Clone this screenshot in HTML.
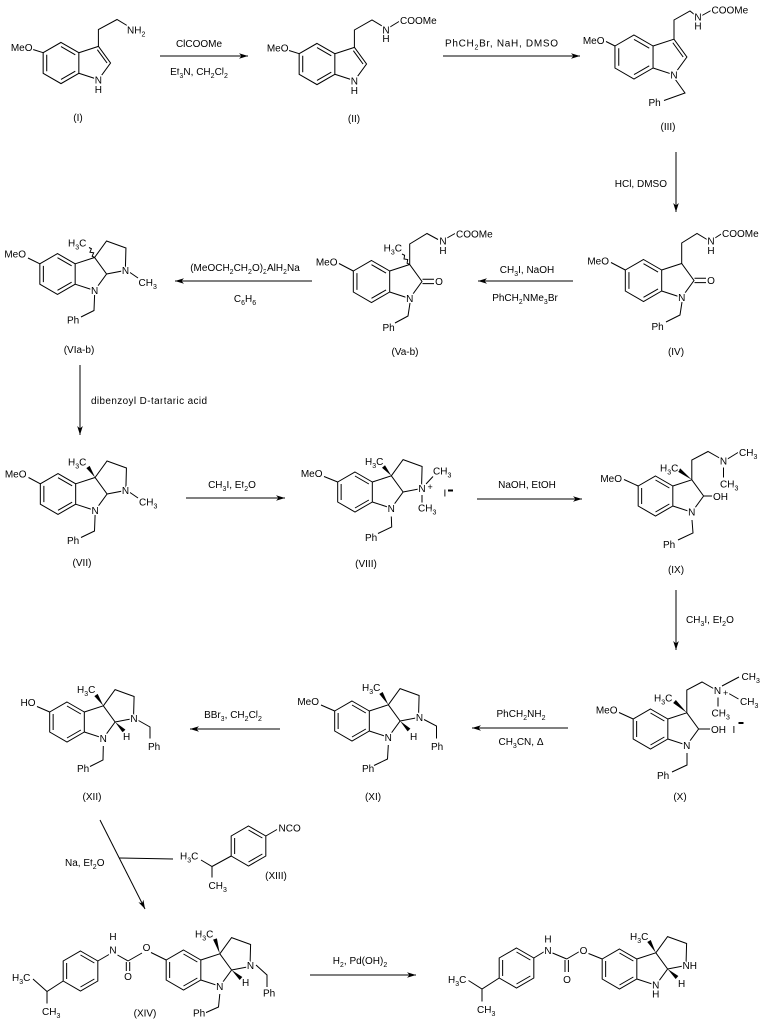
<!DOCTYPE html>
<html><head><meta charset="utf-8">
<style>
html,body{margin:0;padding:0;background:#fff;}
svg{display:block;background:#fff}
.b{fill:none;stroke:#000;stroke-width:1}
text{font-family:"Liberation Sans",Arial,sans-serif;font-size:10px;fill:#000;stroke:#fff;stroke-width:3px;paint-order:stroke;stroke-linejoin:round}
tspan.s{font-size:7px;baseline-shift:-2.5px}
.f{fill:#000;stroke:none}
</style></head><body>
<svg width="769" height="1025" viewBox="0 0 769 1025">
<defs>
<path id="hex" d="M0,-20L17.32,-10L17.32,10L0,20L-17.32,10L-17.32,-10Z M-13.86,-8V8 M0,-16L13.86,-8 M13.86,8L0,16"/>
<path id="pent" d="M17.32,-10L36.34,-16.18L48.1,0L36.34,16.18L17.32,10"/>
<path id="db" d="M35.29,-12.94L44.7,0"/>
<path id="pyr" d="M36.34,-16.18L48.09,-32.36L67.1,-25.5L66.5,-3.5L48.1,0"/>
<g id="benz"><use href="#hex"/></g>
<g id="ind"><use href="#hex"/><use href="#pent"/><use href="#db"/></g>
<g id="indl"><use href="#hex"/><use href="#pent"/></g>
<g id="tri"><use href="#hex"/><use href="#pent"/><use href="#pyr"/></g>
<marker id="ah" markerWidth="10" markerHeight="8" refX="9" refY="4" orient="auto" markerUnits="userSpaceOnUse" overflow="visible"><path d="M0,1.2L9,4L0,6.8L2.5,4Z" fill="#000" stroke="none"/></marker>
</defs>

<g class="b">
<use href="#ind" transform="translate(61,63) scale(1.03)"/>
<use href="#ind" transform="translate(317,64) scale(1.03)"/>
<use href="#ind" transform="translate(634,57) scale(1.1)" stroke-width="0.91"/>
<use href="#indl" transform="translate(643.5,280.5) scale(1.05)" stroke-width="0.95"/>
<use href="#indl" transform="translate(371.5,281.5) scale(1.05)" stroke-width="0.95"/>
<use href="#tri" transform="translate(57.5,274) scale(1.02)"/>
<use href="#tri" transform="translate(58,494) scale(1.02)"/>
<use href="#tri" transform="translate(355,492)"/>
<use href="#indl" transform="translate(655.5,496)"/>
<use href="#indl" transform="translate(650.5,729)"/>
<use href="#tri" transform="translate(352,721)"/>
<use href="#tri" transform="translate(67,722)"/>
<use href="#benz" transform="translate(248.5,846)"/>
<use href="#benz" transform="translate(80.5,971)"/>
<use href="#tri" transform="translate(183.5,970)"/>
<use href="#benz" transform="translate(516.5,968)"/>
<use href="#tri" transform="translate(619.5,969)"/>

<path d="M43.2,52.7L33,49.5 M98.4,46.3V29.5L117,19.5L127,25.5"/>
<path d="M299.2,53.7L289,50.5 M354.4,47.3V30L372,20L382,26 M390,27L399,21.5"/>
<path d="M615,46L606,41.5 M674,39.2V20L690,11L695,15 M702,15.5L711,10.5 M675,79L685,93L664,100.5"/>
<path d="M625.3,270L611,262.5 M694.5,278.3H706 M694.5,282.6H706 M681.7,263.5V243L697,233.5L707,239.5 M715,238L722,233.5 M682,302L680,315L666,322"/>
<path d="M353.3,271L339,263.5 M422.5,279.3H434 M422.5,283.6H434 M409.7,264.5V244L427,233.5L438,239.5 M447,238L455,233.5 M410,303L408,316L395,323"/>
<path d="M402,254L404.59,255.33L404.03,258.97L407.67,259.53L407.11,263.17L409.7,264.5"/>
<path d="M39.8,263.8L28,258 M130,272.5L138,278 M94.6,295L94,310.5L81,317"/>
<path d="M89,247.5L91.42,248.77L89.94,252.23L93.66,252.77L92.18,256.23L94.6,257.5"/>
<path d="M40.3,483.8L28.5,477.5 M130,492.5L138,498 M95.1,515L94.5,531L81,537.5"/>
<path d="M337.7,482L324,476.5 M426,484L433,476.5 M422,495V502.5 M391.3,516.5L391.7,527L378,533.5"/>
<path d="M638.2,486L624,479.5 M703.6,496H712.5 M691.8,479.8V460L708,451.5L719.5,458 M727.5,459L738,452.5 M723.5,467.5V477.5 M692,520L693,533L678,540"/>
<path d="M633.2,719L619,712.5 M698.6,729H710.5 M686.8,712.8V690L702,682L713.5,688.5 M722,686L739,677 M728,693L738.5,699 M718,697.5V706.5 M687,753L687,765L672,772"/>
<path d="M334.7,711L321,705 M424,719.5L436.5,726V738.5 M388.3,745L387.5,759L374,765.5"/>
<path d="M49.7,712L37,706.5 M138.5,720.5L150,727V738.5 M103.3,746L103,760L90,766.5"/>
<path d="M265.8,836L277,829.5 M231.2,856L212,866.5L201,860 M212,866.5V877.5"/>
<path d="M63.2,981L47,991.5L33,979 M47,991.5V1003.5 M97.8,961L109,954.5 M117.5,955L128,961 M126.3,962V971 M129.7,962V971 M128,961L142,953 M151,952.5L166.2,960 M256,965L267,975V987 M219.8,994L218.5,1007L205,1013"/>
<path d="M499.2,978L482,989L468.5,980.5 M482,989V1001.5 M533.8,958L544.5,951.5 M552.5,953L566.7,959 M565,960V972 M568.4,960V972 M566.7,959L579.5,951.5 M588.5,953.5L602.2,959"/>

<path d="M160,56H248" marker-end="url(#ah)"/>
<path d="M443,56H580" marker-end="url(#ah)"/>
<path d="M676,152V212" marker-end="url(#ah)"/>
<path d="M573,281H478" marker-end="url(#ah)"/>
<path d="M312,281H175" marker-end="url(#ah)"/>
<path d="M80,365V435" marker-end="url(#ah)"/>
<path d="M186,498H285" marker-end="url(#ah)"/>
<path d="M477,499H582" marker-end="url(#ah)"/>
<path d="M676,590V650" marker-end="url(#ah)"/>
<path d="M568,728H472" marker-end="url(#ah)"/>
<path d="M280,729H190" marker-end="url(#ah)"/>
<path d="M100,820L145,909" marker-end="url(#ah)"/>
<path d="M119,858L147,858.5L173,859"/>
<path d="M310,975H416" marker-end="url(#ah)"/>
</g>

<g class="f">
<polygon points="95.1,477.5 89.65,465.88 86.35,468.12"/>
<polygon points="391.3,475.8 385,465.2 382,467.8"/>
<polygon points="691.8,479.8 680.2,468.4 677.8,471.6"/>
<polygon points="686.8,712.8 675.85,700.03 673.15,702.97"/>
<polygon points="388.3,704.8 382.7,691.95 379.3,694.05"/>
<polygon points="400.1,721 407.6,731.4 410.4,728.6"/>
<polygon points="103.3,705.8 97.66,693.88 94.34,696.12"/>
<polygon points="115.1,722 122.6,732.4 125.4,729.6"/>
<polygon points="219.8,953.8 216.9,938.4 213.1,939.6"/>
<polygon points="231.6,970 239.66,979.98 242.34,977.02"/>
<polygon points="655.8,952.8 650.74,940 647.26,942"/>
<polygon points="667.6,969 675.66,978.98 678.34,976.02"/>
<rect x="448" y="489.5" width="5" height="2"/>
<rect x="738.5" y="722" width="5" height="2"/>
</g>

<text x="199" y="47" text-anchor="middle">ClCOOMe</text>
<text x="199" y="75" text-anchor="middle">Et<tspan class="s">3</tspan>N, CH<tspan class="s">2</tspan>Cl<tspan class="s">2</tspan></text>
<text x="445" y="46.5" textLength="113" lengthAdjust="spacing">PhCH<tspan class="s">2</tspan>Br, NaH, DMSO</text>
<text x="667" y="187" text-anchor="end">HCl, DMSO</text>
<text x="527" y="273" text-anchor="middle">CH<tspan class="s">3</tspan>I, NaOH</text>
<text x="525" y="301" text-anchor="middle">PhCH<tspan class="s">2</tspan>NMe<tspan class="s">3</tspan>Br</text>
<text x="245" y="271" text-anchor="middle">(MeOCH<tspan class="s">2</tspan>CH<tspan class="s">2</tspan>O)<tspan class="s">2</tspan>AlH<tspan class="s">2</tspan>Na</text>
<text x="245" y="302" text-anchor="middle">C<tspan class="s">6</tspan>H<tspan class="s">6</tspan></text>
<text x="91" y="404" textLength="116" lengthAdjust="spacing">dibenzoyl D-tartaric acid</text>
<text x="232" y="488" text-anchor="middle">CH<tspan class="s">3</tspan>I, Et<tspan class="s">2</tspan>O</text>
<text x="527" y="488" text-anchor="middle">NaOH, EtOH</text>
<text x="686" y="623">CH<tspan class="s">3</tspan>I, Et<tspan class="s">2</tspan>O</text>
<text x="521" y="717" text-anchor="middle">PhCH<tspan class="s">2</tspan>NH<tspan class="s">2</tspan></text>
<text x="521" y="745" text-anchor="middle">CH<tspan class="s">3</tspan>CN, Δ</text>
<text x="233" y="718" text-anchor="middle">BBr<tspan class="s">3</tspan>, CH<tspan class="s">2</tspan>Cl<tspan class="s">2</tspan></text>
<text x="65" y="866">Na, Et<tspan class="s">2</tspan>O</text>
<text x="360" y="964" text-anchor="middle">H<tspan class="s">2</tspan>, Pd(OH)<tspan class="s">2</tspan></text>

<text x="32.5" y="51" text-anchor="end">MeO</text>
<text x="127" y="33.5">NH<tspan class="s">2</tspan></text>
<text x="98.4" y="83.5" text-anchor="middle">N</text>
<text x="98.4" y="93" text-anchor="middle">H</text>
<text x="78" y="121" text-anchor="middle">(I)</text>

<text x="288.5" y="51.5" text-anchor="end">MeO</text>
<text x="386" y="33.5" text-anchor="middle">N</text>
<text x="386" y="42" text-anchor="middle">H</text>
<text x="400" y="24">COOMe</text>
<text x="354.4" y="84.5" text-anchor="middle">N</text>
<text x="354.4" y="94" text-anchor="middle">H</text>
<text x="354" y="122" text-anchor="middle">(II)</text>

<text x="604.5" y="44" text-anchor="end">MeO</text>
<text x="698" y="20.5" text-anchor="middle">N</text>
<text x="698" y="29.5" text-anchor="middle">H</text>
<text x="711.5" y="13.5">COOMe</text>
<text x="674" y="78.5" text-anchor="middle">N</text>
<text x="648.5" y="106">Ph</text>
<text x="668" y="130" text-anchor="middle">(III)</text>

<text x="609" y="264.5" text-anchor="end">MeO</text>
<text x="711" y="284" text-anchor="middle">O</text>
<text x="711" y="244.5" text-anchor="middle">N</text>
<text x="711" y="254" text-anchor="middle">H</text>
<text x="722" y="237">COOMe</text>
<text x="681.7" y="301" text-anchor="middle">N</text>
<text x="651.5" y="330">Ph</text>
<text x="676" y="355" text-anchor="middle">(IV)</text>

<text x="337.5" y="265.5" text-anchor="end">MeO</text>
<text x="439" y="285" text-anchor="middle">O</text>
<text x="443" y="244.5" text-anchor="middle">N</text>
<text x="443" y="254" text-anchor="middle">H</text>
<text x="456" y="237.5">COOMe</text>
<text x="409.7" y="302" text-anchor="middle">N</text>
<text x="382.5" y="331">Ph</text>
<text x="402" y="251.5" text-anchor="end">H<tspan class="s">3</tspan>C</text>
<text x="405" y="355" text-anchor="middle">(Va-b)</text>

<text x="26" y="257.5" text-anchor="end">MeO</text>
<text x="68" y="246.5">H<tspan class="s">3</tspan>C</text>
<text x="125.5" y="274" text-anchor="middle">N</text>
<text x="138.5" y="286">CH<tspan class="s">3</tspan></text>
<text x="94.6" y="294" text-anchor="middle">N</text>
<text x="67" y="323.5">Ph</text>
<text x="79" y="353" text-anchor="middle">(VIa-b)</text>

<text x="26.5" y="477.5" text-anchor="end">MeO</text>
<text x="68" y="465.5">H<tspan class="s">3</tspan>C</text>
<text x="125.5" y="494" text-anchor="middle">N</text>
<text x="139" y="505.5">CH<tspan class="s">3</tspan></text>
<text x="95.1" y="514" text-anchor="middle">N</text>
<text x="67" y="544">Ph</text>
<text x="82" y="566" text-anchor="middle">(VII)</text>

<text x="322.5" y="477" text-anchor="end">MeO</text>
<text x="365" y="465">H<tspan class="s">3</tspan>C</text>
<text x="422" y="492" text-anchor="middle">N</text>
<text x="427.5" y="490" style="font-size:9px">+</text>
<text x="433" y="474.5">CH<tspan class="s">3</tspan></text>
<text x="418" y="511.5">CH<tspan class="s">3</tspan></text>
<text x="443.5" y="496.5">I</text>
<text x="391.3" y="512" text-anchor="middle">N</text>
<text x="365" y="541">Ph</text>
<text x="366" y="567" text-anchor="middle">(VIII)</text>

<text x="622" y="482" text-anchor="end">MeO</text>
<text x="713" y="500">OH</text>
<text x="723.5" y="464.5" text-anchor="middle">N</text>
<text x="739" y="456">CH<tspan class="s">3</tspan></text>
<text x="720" y="487.5">CH<tspan class="s">3</tspan></text>
<text x="660" y="471.5">H<tspan class="s">3</tspan>C</text>
<text x="691.8" y="515.5" text-anchor="middle">N</text>
<text x="663" y="548">Ph</text>
<text x="676" y="573" text-anchor="middle">(IX)</text>

<text x="617.5" y="713.5" text-anchor="end">MeO</text>
<text x="711" y="733">OH</text>
<text x="732.5" y="733">I</text>
<text x="717.5" y="694" text-anchor="middle">N</text>
<text x="723" y="696" style="font-size:9px">+</text>
<text x="741.5" y="680">CH<tspan class="s">3</tspan></text>
<text x="740" y="705">CH<tspan class="s">3</tspan></text>
<text x="711.5" y="716.5">CH<tspan class="s">3</tspan></text>
<text x="654" y="701.5">H<tspan class="s">3</tspan>C</text>
<text x="686.8" y="749" text-anchor="middle">N</text>
<text x="657" y="779">Ph</text>
<text x="680" y="800" text-anchor="middle">(X)</text>

<text x="319" y="705" text-anchor="end">MeO</text>
<text x="362" y="691">H<tspan class="s">3</tspan>C</text>
<text x="419.5" y="721" text-anchor="middle">N</text>
<text x="431" y="750">Ph</text>
<text x="410" y="740">H</text>
<text x="388.3" y="741" text-anchor="middle">N</text>
<text x="362" y="772">Ph</text>
<text x="373" y="800" text-anchor="middle">(XI)</text>

<text x="35.5" y="706" text-anchor="end">HO</text>
<text x="77" y="693">H<tspan class="s">3</tspan>C</text>
<text x="134" y="722" text-anchor="middle">N</text>
<text x="148" y="750">Ph</text>
<text x="123" y="740">H</text>
<text x="103.3" y="742" text-anchor="middle">N</text>
<text x="77" y="772">Ph</text>
<text x="92" y="800" text-anchor="middle">(XII)</text>

<text x="278.5" y="831.5">NCO</text>
<text x="180" y="859.5">H<tspan class="s">3</tspan>C</text>
<text x="208.5" y="889">CH<tspan class="s">3</tspan></text>
<text x="276" y="879" text-anchor="middle">(XIII)</text>

<text x="12" y="981">H<tspan class="s">3</tspan>C</text>
<text x="42" y="1015">CH<tspan class="s">3</tspan></text>
<text x="113" y="953.5" text-anchor="middle">N</text>
<text x="113" y="940" text-anchor="middle">H</text>
<text x="128" y="980" text-anchor="middle">O</text>
<text x="146.5" y="951" text-anchor="middle">O</text>
<text x="195" y="937.5">H<tspan class="s">3</tspan>C</text>
<text x="250.5" y="969" text-anchor="middle">N</text>
<text x="263" y="996.5">Ph</text>
<text x="242" y="986">H</text>
<text x="219.8" y="990" text-anchor="middle">N</text>
<text x="193" y="1016.5">Ph</text>
<text x="145" y="1016.5" text-anchor="middle">(XIV)</text>

<text x="448" y="983">H<tspan class="s">3</tspan>C</text>
<text x="477" y="1013">CH<tspan class="s">3</tspan></text>
<text x="548" y="954" text-anchor="middle">N</text>
<text x="548" y="942.5" text-anchor="middle">H</text>
<text x="567" y="983" text-anchor="middle">O</text>
<text x="583.5" y="954" text-anchor="middle">O</text>
<text x="630" y="940">H<tspan class="s">3</tspan>C</text>
<text x="682.5" y="969">NH</text>
<text x="678" y="987">H</text>
<text x="655.8" y="988.5" text-anchor="middle">N</text>
<text x="655.8" y="997.5" text-anchor="middle">H</text>
</svg>
</body></html>
